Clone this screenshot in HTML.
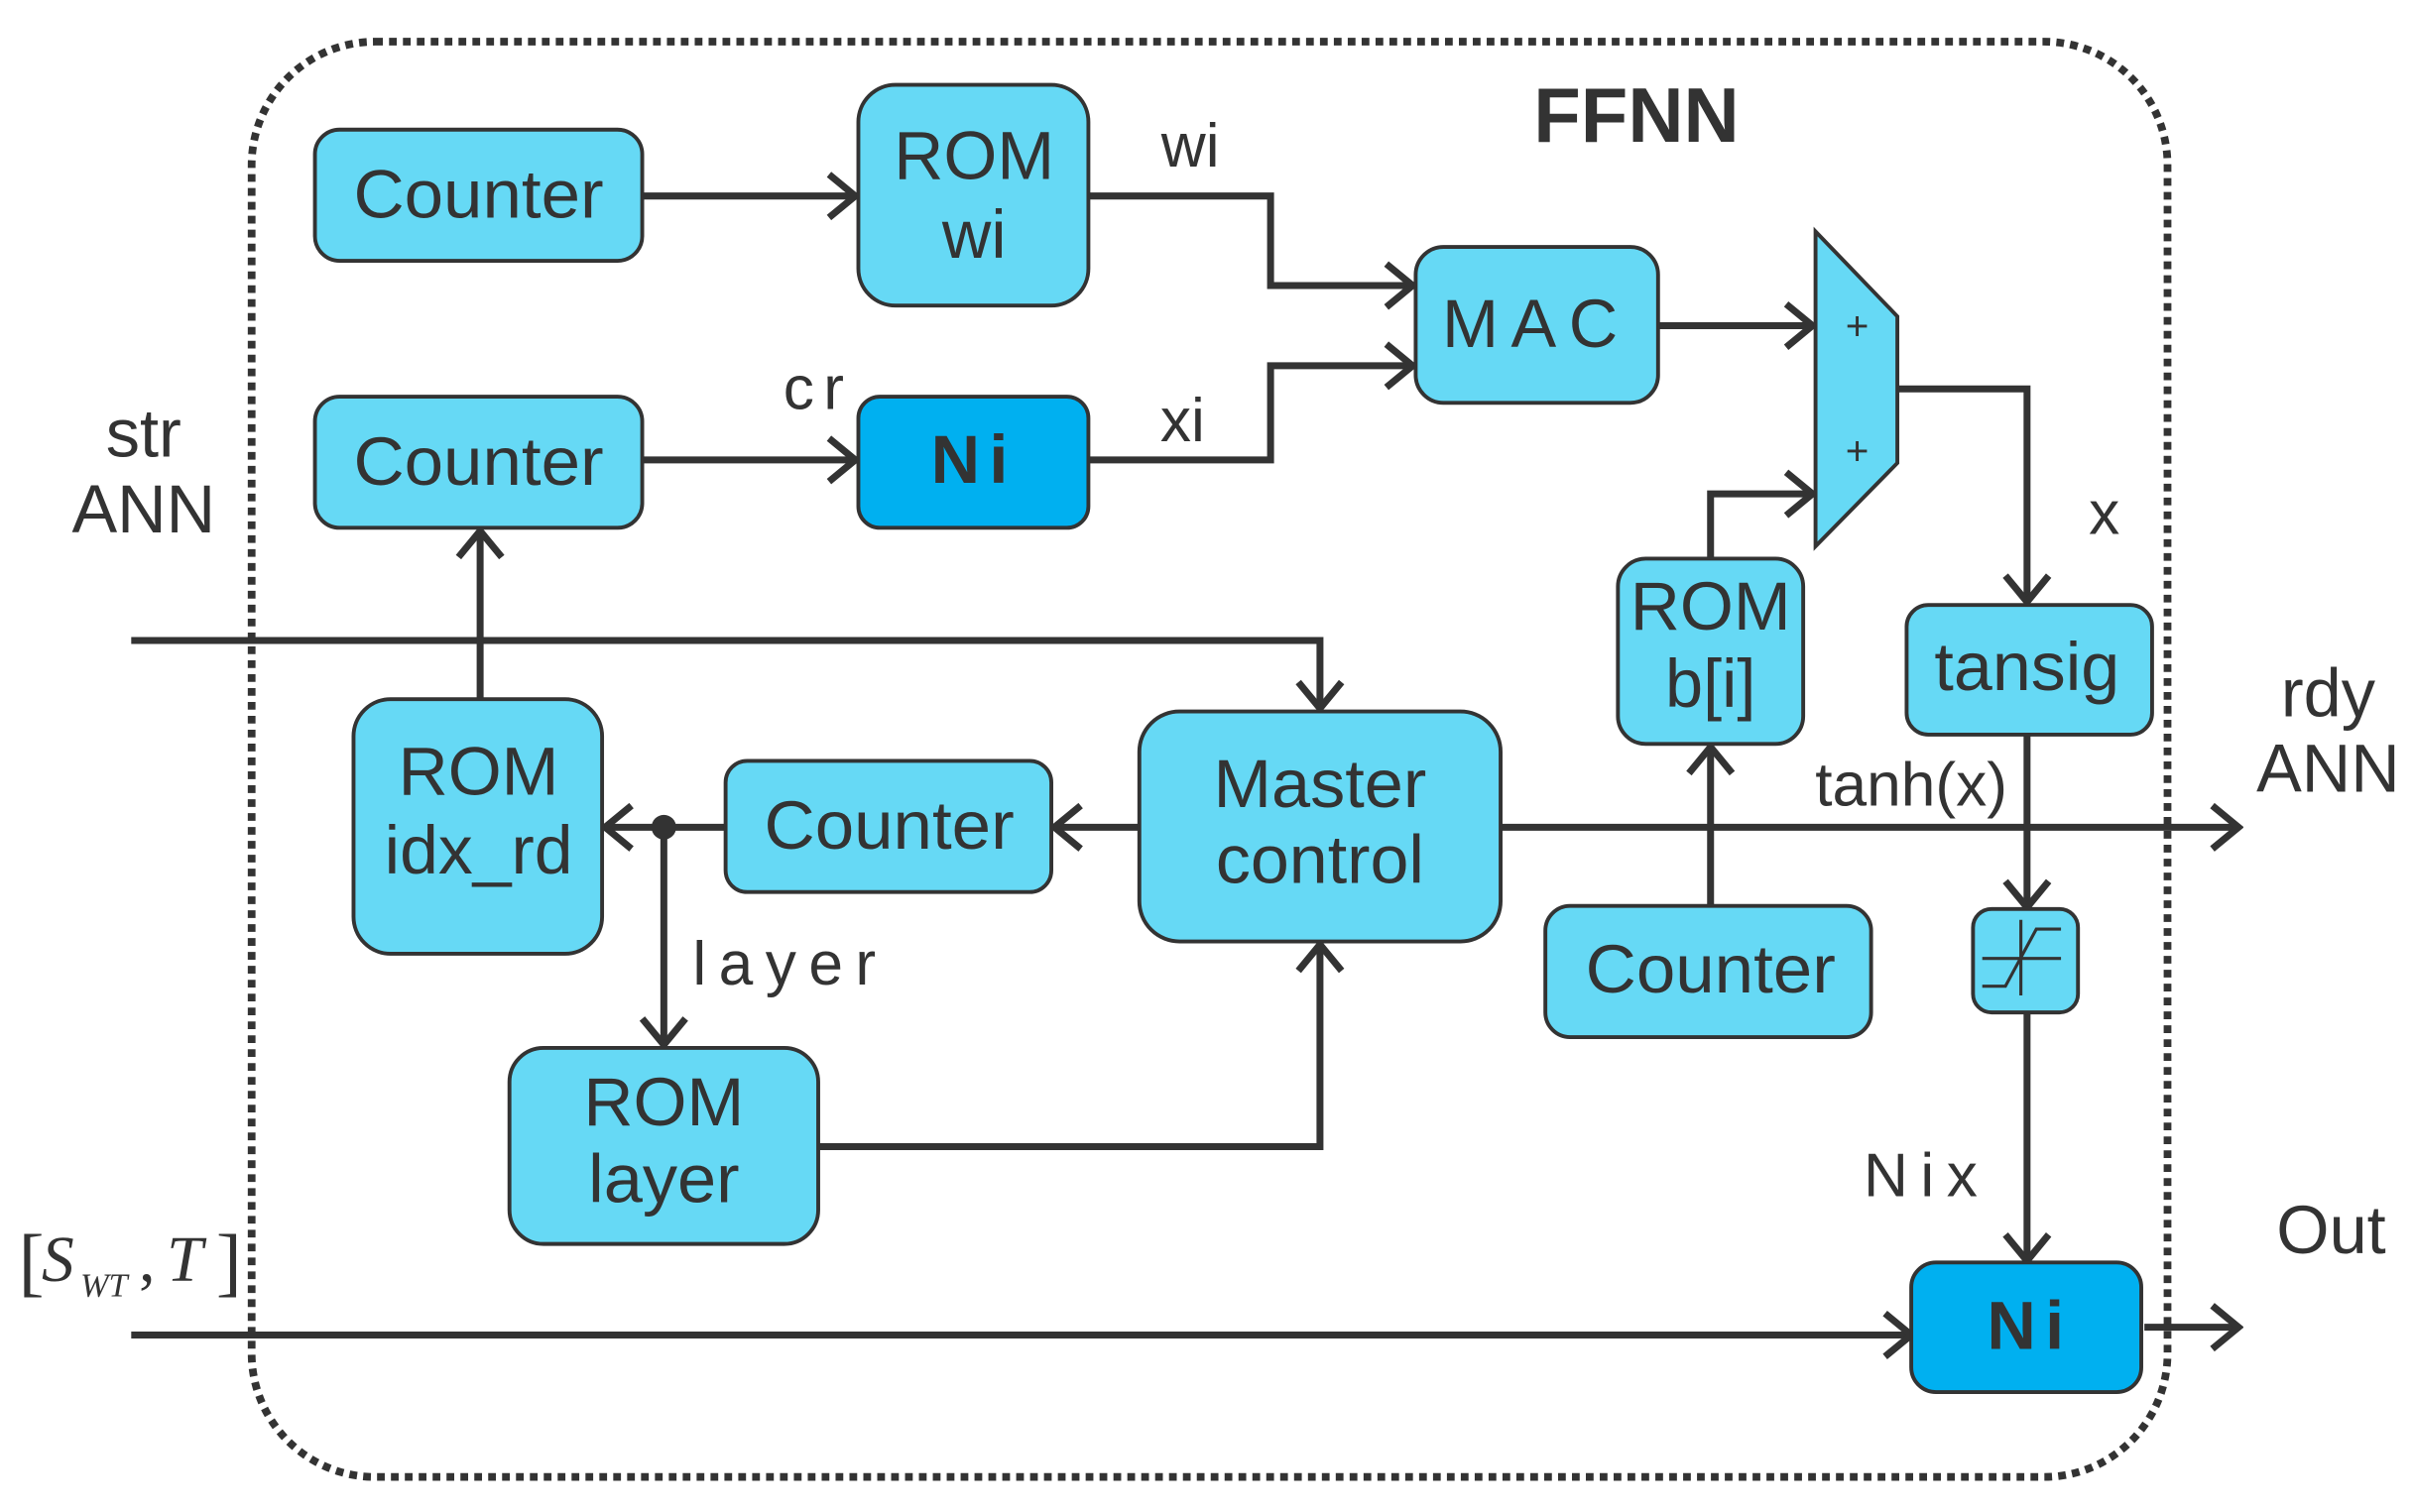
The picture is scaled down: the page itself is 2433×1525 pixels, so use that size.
<!DOCTYPE html>
<html><head><meta charset="utf-8"><style>
html,body{margin:0;padding:0;background:#fff;}
svg{display:block;}
text{font-family:"Liberation Sans",sans-serif;fill:#333;}
</style></head><body>
<svg width="2433" height="1525" viewBox="0 0 1563 979.7" preserveAspectRatio="none" xmlns="http://www.w3.org/2000/svg">
<defs>
<marker id="a" viewBox="0 0 22 32" refX="19" refY="16" markerWidth="22" markerHeight="32" markerUnits="userSpaceOnUse" orient="auto">
<path d="M2,2 L19,16 L2,30" fill="none" stroke="#333" stroke-width="4.5"/>
</marker>
</defs>
<rect x="163" y="27" width="1241" height="930" rx="80" fill="none" stroke="#333" stroke-width="5" stroke-dasharray="5,4"/>

<g stroke="#333" stroke-width="4.5" fill="none">
<path d="M416,127 H554" marker-end="url(#a)"/>
<path d="M705,127 H823 V185 H915" marker-end="url(#a)"/>
<path d="M705,298 H823 V237 H915" marker-end="url(#a)"/>
<path d="M416,298 H554" marker-end="url(#a)"/>
<path d="M1074,211 H1174" marker-end="url(#a)"/>
<path d="M1108,362 V320 H1174" marker-end="url(#a)"/>
<path d="M1229,252 H1313 V390" marker-end="url(#a)"/>
<path d="M85,415 H855 V459" marker-end="url(#a)"/>
<path d="M311,453 V344" marker-end="url(#a)"/>
<path d="M738,536 H683" marker-end="url(#a)"/>
<path d="M470,536 H392" marker-end="url(#a)"/>
<path d="M430,536 V677" marker-end="url(#a)"/>
<path d="M530,743 H855 V612" marker-end="url(#a)"/>
<path d="M972,536 H1450" marker-end="url(#a)"/>
<path d="M1108,589 V484" marker-end="url(#a)"/>
<path d="M1313,476 V588" marker-end="url(#a)"/>
<path d="M1313,656 V817" marker-end="url(#a)"/>
<path d="M85,865 H1238" marker-end="url(#a)"/>
<path d="M1389,860 H1450" marker-end="url(#a)"/>
</g>
<circle cx="430" cy="536" r="8" fill="#333"/>

<g stroke="#333" stroke-width="2.5" fill="#66d9f5">
<rect x="204" y="84" width="212" height="85" rx="16"/>
<rect x="556" y="55" width="149" height="143" rx="24"/>
<rect x="204" y="257" width="212" height="85" rx="16"/>
<rect x="556" y="257" width="149" height="85" rx="14" fill="#00b0f0"/>
<rect x="917" y="160" width="157" height="101" rx="18"/>
<path d="M1176,150 L1229,205 L1229,300 L1176,354 Z"/>
<rect x="1048" y="362" width="120" height="120" rx="18"/>
<rect x="1235" y="392" width="159" height="84" rx="14"/>
<rect x="229" y="453" width="161" height="165" rx="24"/>
<rect x="470" y="493" width="211" height="85" rx="14"/>
<rect x="738" y="461" width="234" height="149" rx="26"/>
<rect x="1001" y="587" width="211" height="85" rx="16"/>
<rect x="1278" y="589" width="68" height="67" rx="12"/>
<rect x="330" y="679" width="200" height="127" rx="22"/>
<rect x="1238" y="818" width="149" height="84" rx="16" fill="#00b0f0"/>
</g>
<g stroke="#333" stroke-width="2" fill="none">
<path d="M1284,621 H1335"/>
<path d="M1309,596 V645"/>
<path d="M1284,639 H1299 L1319,602 H1335"/>
</g>

<g font-size="44" text-anchor="middle">
<text x="310" y="141" textLength="162" lengthAdjust="spacingAndGlyphs">Counter</text>
<text x="310" y="314" textLength="162" lengthAdjust="spacingAndGlyphs">Counter</text>
<text x="576" y="550" textLength="162" lengthAdjust="spacingAndGlyphs">Counter</text>
<text x="1108" y="643" textLength="162" lengthAdjust="spacingAndGlyphs">Counter</text>
<text x="631" y="116" textLength="104" lengthAdjust="spacingAndGlyphs">ROM</text>
<text x="631" y="167">wi</text>
<text x="1108" y="408" textLength="104" lengthAdjust="spacingAndGlyphs">ROM</text>
<text x="1108" y="458">b[i]</text>
<text x="310" y="515" textLength="104" lengthAdjust="spacingAndGlyphs">ROM</text>
<text x="310" y="566" textLength="122" lengthAdjust="spacingAndGlyphs">idx_rd</text>
<text x="430" y="729" textLength="104" lengthAdjust="spacingAndGlyphs">ROM</text>
<text x="430" y="779" textLength="98" lengthAdjust="spacingAndGlyphs">layer</text>
<text x="855" y="523" textLength="138" lengthAdjust="spacingAndGlyphs">Master</text>
<text x="855" y="572" textLength="135" lengthAdjust="spacingAndGlyphs">control</text>
<text x="1313" y="447" textLength="120" lengthAdjust="spacingAndGlyphs">tansig</text>
<text x="995" y="225" letter-spacing="8">MAC</text>
<text x="631" y="313" font-weight="bold" letter-spacing="6">Ni</text>
<text x="1315" y="874" font-weight="bold" letter-spacing="6">Ni</text>
</g>
<g font-size="40" text-anchor="middle">
<text x="771" y="108">wi</text>
<text x="530" y="265" letter-spacing="6">cr</text>
<text x="766" y="286">xi</text>
<text x="1363" y="346">x</text>
<text x="1238" y="522">tanh(x)</text>
<text x="512" y="638" letter-spacing="8">layer</text>
<text x="1248" y="775" letter-spacing="8">Nix</text>
</g>
<g font-size="44" text-anchor="middle">
<text x="93" y="296">str</text>
<text x="93" y="345">ANN</text>
<text x="1508" y="464">rdy</text>
<text x="1508" y="513">ANN</text>
<text x="1510" y="812">Out</text>
</g>
<text x="1060" y="92" font-size="50" font-weight="bold" text-anchor="middle">FFNN</text>
<text x="1203" y="220" font-size="26" text-anchor="middle">+</text>
<text x="1203" y="301" font-size="26" text-anchor="middle">+</text>
<text x="12" y="834" font-size="50" style="font-family:'Liberation Serif',serif">[</text>
<text x="27" y="830" font-size="42" font-style="italic" style="font-family:'Liberation Serif',serif">S</text>
<text x="52" y="840" font-size="22" font-style="italic" style="font-family:'Liberation Serif',serif">WT</text>
<text x="90" y="830" font-size="42" style="font-family:'Liberation Serif',serif">,</text>
<text x="108" y="830" font-size="42" font-style="italic" style="font-family:'Liberation Serif',serif">T</text>
<text x="140" y="834" font-size="50" style="font-family:'Liberation Serif',serif">]</text>
</svg>
</body></html>
